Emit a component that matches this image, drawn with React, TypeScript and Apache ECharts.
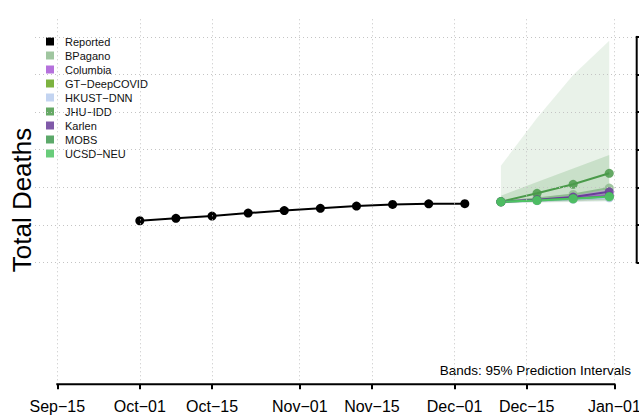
import React, { useEffect, useRef } from "react";
import * as echarts from "echarts";

// ---- data ----
const xTickDays = [0, 16, 30, 47, 61, 77, 91, 108]; // days since Sep-15
const xTickLabels = ["Sep−15", "Oct−01", "Oct−15", "Nov−01", "Nov−15", "Dec−01", "Dec−15", "Jan−01"];
const yTicks = [8000, 10000, 12000, 14000, 16000, 18000, 20000];

const reportedDays = [16, 23, 30, 37, 44, 51, 58, 65, 72, 79];
const reportedDeaths = [10220, 10350, 10470, 10630, 10760, 10880, 11000, 11090, 11120, 11130];

const forecastDays = [86, 93, 100, 107];

const modelNames = ["BPagano", "Columbia", "GT−DeepCOVID", "HKUST−DNN", "JHU−IDD", "Karlen", "MOBS", "UCSD−NEU"];
const modelColors = ["#8fbc8f", "#a858d6", "#66a61e", "#b8cdee", "#4a9a4a", "#6a3d9a", "#3f9a50", "#4fc464"];

const bpaganoMid = [11230, 11400, 11620, 11960];
const bpaganoLo = [11150, 11180, 11220, 11260];
const bpaganoHi = [13150, 15690, 17970, 19800];

const columbiaMid = [11230, 11330, 11440, 11580];
const columbiaLo = [11180, 11230, 11290, 11350];
const columbiaHi = [11300, 11460, 11640, 11850];

const gtMid = [11225, 11300, 11380, 11470];
const gtLo = [11180, 11220, 11260, 11300];
const gtHi = [11280, 11390, 11500, 11640];

const hkustMid = [11220, 11290, 11360, 11440];
const hkustLo = [11170, 11200, 11230, 11260];
const hkustHi = [11280, 11380, 11490, 11610];

const jhuMid = [11234, 11680, 12160, 12745];
const jhuLo = [11170, 11260, 11360, 11450];
const jhuHi = [11550, 12280, 13000, 13720];

const karlenMid = [11234, 11340, 11480, 11760];
const karlenLo = [11200, 11280, 11380, 11560];
const karlenHi = [11280, 11420, 11600, 11960];

const mobsMid = [11230, 11310, 11400, 11520];
const mobsLo = [11190, 11240, 11300, 11370];
const mobsHi = [11290, 11400, 11520, 11680];

const ucsdMid = [11230, 11300, 11390, 11500];
const ucsdLo = [11200, 11250, 11320, 11400];
const ucsdHi = [11270, 11360, 11470, 11610];

const modelMids = [bpaganoMid, columbiaMid, gtMid, hkustMid, jhuMid, karlenMid, mobsMid, ucsdMid];
const modelLos = [bpaganoLo, columbiaLo, gtLo, hkustLo, jhuLo, karlenLo, mobsLo, ucsdLo];
const modelHis = [bpaganoHi, columbiaHi, gtHi, hkustHi, jhuHi, karlenHi, mobsHi, ucsdHi];

const X_MIN = -4.32;
const X_MAX = 112.32;
const Y_MIN = 1520;
const Y_MAX = 21060;

const FONT = "'Liberation Sans', Arial, Helvetica, sans-serif";

function hexToRgba(hex: string, a: number) {
  const r = parseInt(hex.slice(1, 3), 16);
  const g = parseInt(hex.slice(3, 5), 16);
  const b = parseInt(hex.slice(5, 7), 16);
  return `rgba(${r},${g},${b},${a})`;
}

export default function App() {
  const ref = useRef<HTMLDivElement>(null);

  useEffect(() => {
    if (!ref.current) return;
    document.body.style.margin = "0";
    const chart = echarts.init(ref.current, undefined, { renderer: "svg" });

    const bandSeries = modelNames.map((name, i) => ({
      type: "custom",
      name: name + " band",
      silent: true,
      z: 1,
      data: forecastDays.map((d, k) => [d, modelLos[i][k], modelHis[i][k]]),
      encode: { x: 0, y: [1, 2] },
      renderItem: (params: any, api: any) => {
        if (params.dataIndexInside !== 0) return { type: "group", children: [] };
        const n = params.dataInsideLength;
        const upper: number[][] = [];
        const lower: number[][] = [];
        for (let k = 0; k < n; k++) {
          const x = api.value(0, k);
          upper.push(api.coord([x, api.value(2, k)]));
          lower.push(api.coord([x, api.value(1, k)]));
        }
        return {
          type: "polygon",
          shape: { points: upper.concat(lower.reverse()) },
          style: { fill: hexToRgba(modelColors[i], 0.2), stroke: "none" },
        };
      },
    }));

    const lineSeries = modelNames.map((name, i) => ({
      type: "line",
      name,
      z: 3,
      data: forecastDays.map((d, k) => [d, modelMids[i][k]]),
      symbol: "circle",
      symbolSize: 9,
      showSymbol: true,
      color: modelColors[i],
      lineStyle: { width: 2, color: modelColors[i] },
      itemStyle: { color: modelColors[i], opacity: 0.85 },
    }));

    const axisLineSeries = (name: string, pts: number[][]) => ({
      type: "line",
      name,
      z: 5,
      clip: false,
      silent: true,
      symbol: "none",
      data: pts,
      lineStyle: { color: "#000", width: 2, cap: "square" },
    });

    const option: any = {
      animation: false,
      textStyle: { fontFamily: FONT },
      grid: { left: 35, right: 2.3, top: 17, bottom: 32.7, containLabel: false, outerBoundsMode: "none" },
      legend: {
        show: true,
        orient: "vertical",
        left: 46,
        top: 36,
        padding: 0,
        itemWidth: 8,
        itemHeight: 8,
        itemGap: 3,
        icon: "rect",
        data: ["Reported", ...modelNames],
        textStyle: { fontSize: 11, color: "#111", fontFamily: FONT, padding: [0, 0, 0, 6] },
        selectedMode: false,
      },
      xAxis: {
        type: "value",
        min: X_MIN,
        max: X_MAX,
        axisLine: { show: false, onZero: false },
        splitLine: { show: false },
        axisTick: {
          show: true,
          inside: false,
          customValues: xTickDays,
          length: 5,
          lineStyle: { color: "#000", width: 2 },
        },
        axisLabel: {
          show: true,
          customValues: xTickDays,
          margin: 14,
          fontSize: 16,
          color: "#000",
          fontFamily: FONT,
          formatter: (v: number) => {
            const idx = xTickDays.indexOf(Math.round(v));
            return idx >= 0 ? xTickLabels[idx] : "";
          },
        },
      },
      yAxis: {
        type: "value",
        position: "right",
        min: Y_MIN,
        max: Y_MAX,
        axisLine: { show: false, onZero: false },
        splitLine: { show: false },
        axisTick: {
          show: true,
          inside: false,
          customValues: yTicks,
          length: 6,
          lineStyle: { color: "#000", width: 2 },
        },
        axisLabel: { show: false },
      },
      graphic: [
        {
          type: "text",
          x: 22,
          y: 200,
          rotation: Math.PI / 2,
          style: {
            text: "Total Deaths",
            font: `26px ${FONT}`,
            fill: "#000",
            align: "center",
            verticalAlign: "middle",
          },
        },
        {
          type: "text",
          x: 631,
          y: 370,
          style: {
            text: "Bands: 95% Prediction Intervals",
            font: `13.5px ${FONT}`,
            fill: "#000",
            align: "right",
            verticalAlign: "middle",
          },
        },
      ],
      series: [
        {
          type: "line",
          name: "gridlines",
          data: [],
          z: 0,
          clip: false,
          silent: true,
          markLine: {
            silent: true,
            symbol: ["none", "none"],
            label: { show: false },
            animation: false,
            lineStyle: { color: "#c4c4c4", type: [1, 3], width: 1 },
            data: [
              ...xTickDays.map((d) => ({ xAxis: d })),
              ...yTicks.map((v) => ({ yAxis: v })),
            ],
          },
        },
        ...bandSeries,
        {
          type: "line",
          name: "Reported",
          z: 4,
          data: reportedDays.map((d, k) => [d, reportedDeaths[k]]),
          symbol: "circle",
          symbolSize: 9,
          color: "#000",
          lineStyle: { width: 2, color: "#000" },
          itemStyle: { color: "#000" },
        },
        ...lineSeries,
        axisLineSeries("xAxisLine", [
          [xTickDays[0], Y_MIN],
          [xTickDays[xTickDays.length - 1], Y_MIN],
        ]),
        axisLineSeries("yAxisLine", [
          [X_MAX, yTicks[0]],
          [X_MAX, yTicks[yTicks.length - 1]],
        ]),
      ],
    };

    chart.setOption(option);
    return () => chart.dispose();
  }, []);

  return <div ref={ref} style={{ width: 639, height: 417 }} />;
}
